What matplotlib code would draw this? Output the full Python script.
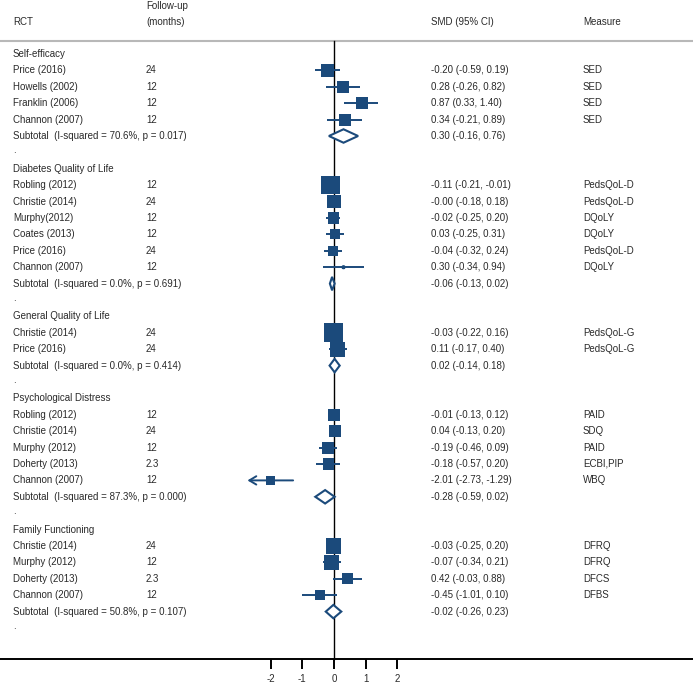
import matplotlib
matplotlib.use("Agg")
import matplotlib.pyplot as plt
from matplotlib.patches import Polygon
import numpy as np

plt.rcParams['font.family'] = ['Liberation Sans', 'DejaVu Sans']

# ---------------- data ----------------
groups = ["Self-efficacy", "Diabetes Quality of Life", "General Quality of Life",
          "Psychological Distress", "Family Functioning"]

studies = [
    ["Price (2016)", "Howells (2002)", "Franklin (2006)", "Channon (2007)"],
    ["Robling (2012)", "Christie (2014)", "Murphy(2012)", "Coates (2013)", "Price (2016)", "Channon (2007)"],
    ["Christie (2014)", "Price (2016)"],
    ["Robling (2012)", "Christie (2014)", "Murphy (2012)", "Doherty (2013)", "Channon (2007)"],
    ["Christie (2014)", "Murphy (2012)", "Doherty (2013)", "Channon (2007)"],
]
followup = [
    ["24", "12", "12", "12"],
    ["12", "24", "12", "12", "24", "12"],
    ["24", "24"],
    ["12", "24", "12", "2.3", "12"],
    ["24", "12", "2.3", "12"],
]
smd = [
    [-0.20, 0.28, 0.87, 0.34],
    [-0.11, -0.0, -0.02, 0.03, -0.04, 0.30],
    [-0.03, 0.11],
    [-0.01, 0.04, -0.19, -0.18, -2.01],
    [-0.03, -0.07, 0.42, -0.45],
]
ci_low = [
    [-0.59, -0.26, 0.33, -0.21],
    [-0.21, -0.18, -0.25, -0.25, -0.32, -0.34],
    [-0.22, -0.17],
    [-0.13, -0.13, -0.46, -0.57, -2.73],
    [-0.25, -0.34, -0.03, -1.01],
]
ci_high = [
    [0.19, 0.82, 1.40, 0.89],
    [-0.01, 0.18, 0.20, 0.31, 0.24, 0.94],
    [0.16, 0.40],
    [0.12, 0.20, 0.09, 0.20, -1.29],
    [0.20, 0.21, 0.88, 0.10],
]
measures = [
    ["SED", "SED", "SED", "SED"],
    ["PedsQoL-D", "PedsQoL-D", "DQoLY", "DQoLY", "PedsQoL-D", "DQoLY"],
    ["PedsQoL-G", "PedsQoL-G"],
    ["PAID", "SDQ", "PAID", "ECBI,PIP", "WBQ"],
    ["DFRQ", "DFRQ", "DFCS", "DFBS"],
]
# relative study weights (box area)
weights = [
    [16.9, 14.4, 14.4, 14.4],
    [32.4, 16.9, 12.1, 10.0, 10.0, 1.0],
    [36.1, 22.5],
    [14.4, 14.4, 14.4, 12.1, 8.1],
    [22.5, 22.5, 12.1, 10.0],
]
sub_i2 = [70.6, 0.0, 0.0, 87.3, 50.8]
sub_p = ["0.017", "0.691", "0.414", "0.000", "0.107"]
sub_est = [0.30, -0.06, 0.02, -0.28, -0.02]
sub_low = [-0.16, -0.13, -0.14, -0.59, -0.26]
sub_high = [0.76, 0.02, 0.18, 0.02, 0.23]
xticks = [-2, -1, 0, 1, 2]

# ---------------- layout ----------------
W, H = 693, 684
x0_px, unit_px = 334.0, 31.7
row0_px, row_px = 54.0, 16.4
blue = "#1b4a7b"
tcol = "#2a2a2a"
fs = 7.0

fig = plt.figure(figsize=(W / 100, H / 100), dpi=100)
ax = fig.add_axes([0, 0, 1, 1])
ax.set_xlim(-x0_px / unit_px, (W - x0_px) / unit_px)
ax.set_ylim((H - row0_px) / row_px, -row0_px / row_px)
tr = ax.get_yaxis_transform()  # x in axes fraction, y in data rows

col_rct, col_fu, col_smd, col_meas = 13 / W, 146 / W, 431 / W, 583 / W

def txt(x, y, s):
    ax.text(x, y, s, transform=tr, fontsize=fs, color=tcol, va="center", ha="left")

# header
txt(col_rct, -1.95, "RCT")
txt(col_fu, -2.93, "Follow-up")
txt(col_fu, -1.95, "(months)")
txt(col_smd, -1.95, "SMD (95% CI)")
txt(col_meas, -1.95, "Measure")
top_rule = -0.79
ax.axhline(top_rule, color="#b8b8b8", lw=1.5)

row = 0
diam_h = 0.41
for g in range(len(groups)):
    txt(col_rct, row, groups[g])
    row += 1
    for i in range(len(studies[g])):
        e, lo, hi = smd[g][i], ci_low[g][i], ci_high[g][i]
        txt(col_rct, row, studies[g][i])
        txt(col_fu, row, followup[g][i])
        txt(col_smd, row, f"{e:.2f} ({lo:.2f}, {hi:.2f})")
        txt(col_meas, row, measures[g][i])
        if e < -1.5:
            ax.annotate("", xy=(lo, row), xytext=(hi, row),
                        arrowprops=dict(arrowstyle="->,head_length=0.5,head_width=0.3",
                                        color=blue, lw=1.4, shrinkA=0, shrinkB=0))
        else:
            ax.plot([lo, hi], [row, row], color=blue, lw=1.4, solid_capstyle="butt", zorder=3)
        ax.scatter([e], [row], marker="s", s=weights[g][i] * 5.2, color=blue,
                   edgecolors="none", zorder=4)
        ax.scatter([e], [row], marker="o", s=9, color=blue, edgecolors="none", zorder=5)
        row += 1
    txt(col_rct, row, f"Subtotal  (I-squared = {sub_i2[g]:.1f}%, p = {sub_p[g]})")
    txt(col_smd, row, f"{sub_est[g]:.2f} ({sub_low[g]:.2f}, {sub_high[g]:.2f})")
    d = Polygon([(sub_low[g], row), (sub_est[g], row - diam_h), (sub_high[g], row),
                 (sub_est[g], row + diam_h)], closed=True, facecolor="white",
                edgecolor=blue, lw=1.5, zorder=4)
    ax.add_patch(d)
    row += 1
    txt(col_rct, row - 0.15, ".")
    row += 1

bottom = (659 - row0_px) / row_px
ax.plot([0, 0], [top_rule, bottom], color="black", lw=1.0, zorder=2)

# axis
for s in ["top", "left", "right"]:
    ax.spines[s].set_visible(False)
ax.spines["bottom"].set_position(("data", bottom))
ax.spines["bottom"].set_linewidth(1.4)
ax.set_xticks(xticks)
ax.set_xticklabels([str(t) for t in xticks])
ax.tick_params(axis="x", direction="out", length=7.5, width=1.4, pad=3.5,
               labelsize=fs, labelcolor=tcol)
ax.set_yticks([])
ax.patch.set_alpha(0)

fig.savefig("out.png", dpi=100, facecolor="white")
